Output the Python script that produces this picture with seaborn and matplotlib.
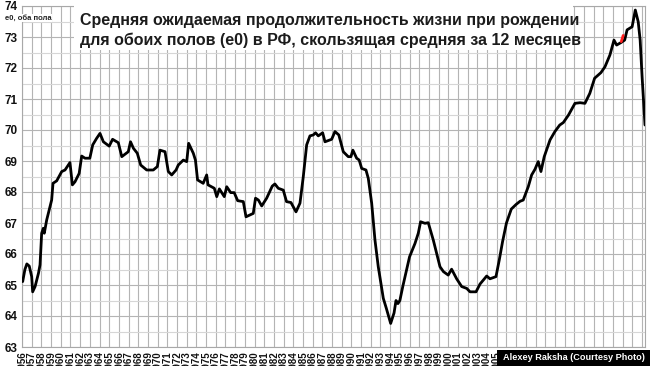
import numpy as np
import pandas as pd
import matplotlib
matplotlib.use("Agg")
import matplotlib.pyplot as plt
import matplotlib.patches as mpatches
from matplotlib.ticker import MultipleLocator
import seaborn as sns

# ---- data ----
years = [1956.07, 1956.3, 1956.5, 1956.75, 1957.0, 1957.1, 1957.35, 1957.7, 1957.86, 1958.03,
         1958.2, 1958.3, 1958.55, 1958.9, 1959.06, 1959.2, 1959.58, 1960.1, 1960.44, 1960.95,
         1961.2, 1961.47, 1961.9, 1962.16, 1962.5, 1963.0, 1963.3, 1963.7, 1964.05, 1964.4,
         1965.0, 1965.35, 1965.94, 1966.3, 1966.97, 1967.2, 1967.5, 1967.9, 1968.25, 1968.87,
         1969.55, 1969.97, 1970.24, 1970.76, 1971.1, 1971.45, 1971.9, 1972.13, 1972.65, 1973.0,
         1973.2, 1973.68, 1973.9, 1974.12, 1974.7, 1975.06, 1975.2, 1975.85, 1976.1, 1976.37,
         1976.88, 1977.13, 1977.54, 1977.9, 1978.26, 1978.84, 1979.12, 1979.87, 1980.1, 1980.4,
         1980.74, 1981.25, 1981.83, 1982.1, 1982.45, 1982.97, 1983.3, 1983.76, 1984.28, 1984.69,
         1985.03, 1985.38, 1985.72, 1986.06, 1986.3, 1986.58, 1987.03, 1987.27, 1987.96, 1988.3,
         1988.7, 1989.16, 1989.67, 1989.95, 1990.15, 1990.54, 1990.8, 1991.06, 1991.5, 1991.74,
         1992.09, 1992.43, 1992.77, 1993.29, 1993.6, 1994.05, 1994.4, 1994.6, 1994.8, 1995.0,
         1995.3, 1996.0, 1996.56, 1996.9, 1997.14, 1997.59, 1997.93, 1998.45, 1999.14, 1999.5,
         1999.99, 2000.34, 2000.86, 2001.38, 2001.9, 2002.24, 2002.86, 2003.27, 2003.96, 2004.3,
         2004.92, 2005.26, 2005.6, 2006.0, 2006.5, 2007.0, 2007.4, 2007.73, 2008.25, 2008.6,
         2008.94, 2009.28, 2009.56, 2009.9, 2010.5, 2011.0, 2011.5, 2011.87, 2012.4, 2013.07,
         2013.6, 2014.1, 2014.6, 2015.1, 2015.75, 2016.17, 2016.68, 2017.1, 2017.37, 2017.82,
         2018.2, 2018.45, 2018.97, 2019.3, 2019.6, 2019.8, 2020.0, 2020.3]
e0 = [65.11, 65.5, 65.68, 65.61, 65.27, 64.78, 64.95, 65.38, 65.65, 66.67,
      66.83, 66.67, 67.1, 67.53, 67.74, 68.28, 68.36, 68.66, 68.71, 68.95,
      68.23, 68.33, 68.6, 69.16, 69.09, 69.09, 69.52, 69.73, 69.89, 69.62,
      69.48, 69.7, 69.59, 69.14, 69.3, 69.62, 69.41, 69.25, 68.87, 68.71,
      68.71, 68.82, 69.35, 69.3, 68.66, 68.55, 68.71, 68.87, 69.03, 68.98,
      69.57, 69.25, 69.03, 68.39, 68.28, 68.55, 68.23, 68.12, 67.85, 68.1,
      67.85, 68.17, 67.98, 67.98, 67.72, 67.69, 67.2, 67.31, 67.8, 67.74,
      67.55, 67.8, 68.19, 68.26, 68.12, 68.06, 67.69, 67.66, 67.36, 67.64,
      68.49, 69.52, 69.81, 69.84, 69.91, 69.81, 69.91, 69.62, 69.7, 69.95,
      69.84, 69.3, 69.14, 69.14, 69.35, 69.09, 69.03, 68.76, 68.71, 68.44,
      67.64, 66.45, 65.59, 64.57, 64.25, 63.76, 64.1, 64.5, 64.4, 64.5,
      64.95, 65.91, 66.34, 66.67, 67.04, 66.99, 67.01, 66.45, 65.59, 65.43,
      65.32, 65.51, 65.2, 64.95, 64.89, 64.78, 64.78, 65.03, 65.29, 65.2,
      65.27, 65.81, 66.4, 67.0, 67.45, 67.6, 67.7, 67.74, 68.17, 68.55,
      68.73, 68.98, 68.66, 69.14, 69.68, 69.95, 70.16, 70.24, 70.48, 70.86,
      70.88, 70.86, 71.18, 71.67, 71.85, 72.04, 72.42, 72.9, 72.74, 72.82,
      72.9, 73.23, 73.33, 73.87, 73.49, 72.9, 71.72, 70.16]
red_years = [2017.85, 2018.05]
red_e0 = [72.85, 73.05]
tick_years = list(range(1956, 2021))
y_ticks = list(range(63, 75))

title_line1 = "Средняя ожидаемая продолжительность жизни при рождении"
title_line2 = "для обоих полов (е0) в РФ, скользящая средняя за 12 месяцев"
y_note = "е0, оба пола"
credit = "Alexey Raksha (Courtesy Photo)"

# ---- drawing ----
sns.set_style("white")
plt.rcParams["font.family"] = ["Liberation Sans", "DejaVu Sans"]

W, H = 650, 366
fig = plt.figure(figsize=(W / 100, H / 100), dpi=100)
ax = fig.add_axes([22 / W, 1 - 347 / H, (645 - 22) / W, (347 - 6) / H])

df = pd.DataFrame({"year": years, "e0": e0})
sns.lineplot(data=df, x="year", y="e0", ax=ax, color="black", lw=2.0, sort=False, zorder=5)
rdf = pd.DataFrame({"year": red_years, "e0": red_e0})
sns.lineplot(data=rdf, x="year", y="e0", ax=ax, color="#ff2020", lw=2.0, sort=False, zorder=6)

ax.set_xlim(1956, 2020.3)
ax.set_ylim(63, 74)
ax.set_xticks(tick_years)
ax.set_xticklabels([str(y) for y in tick_years], rotation=90, fontsize=7, fontweight="bold")
for yr, lab in zip(tick_years, ax.get_xticklabels()):
    if yr > 2005:  # hidden under the credit strip in the reference
        lab.set_visible(False)
ax.set_yticks(y_ticks)
ax.set_yticklabels([str(v) for v in y_ticks], fontsize=8.5, fontweight="bold")
ax.yaxis.set_minor_locator(MultipleLocator(0.5))
ax.tick_params(axis="both", which="both", length=0, colors="#111111")
ax.tick_params(axis="x", pad=3)
ax.tick_params(axis="y", pad=3)
ax.grid(True, which="major", color="#b4b4b4", lw=0.8)
ax.grid(True, which="minor", axis="y", color="#d6d6d6", lw=0.8)
ax.set_axisbelow(True)
ax.set_xlabel("")
ax.set_ylabel("")
for s in ax.spines.values():
    s.set_color("#a8a8a8")
    s.set_linewidth(0.8)

# white panel behind the title
fig.patches.append(mpatches.Rectangle((74 / W, 1 - 50 / H), (573 - 74) / W, 50 / H,
                                      transform=fig.transFigure, facecolor="white",
                                      edgecolor="none", zorder=1.5))
fig.text(80 / W, 1 - 25 / H, title_line1, ha="left", va="baseline", fontsize=11.5,
         fontweight="bold", color="#1c1c1c", zorder=3)
fig.text(80 / W, 1 - 45 / H, title_line2, ha="left", va="baseline", fontsize=11.5,
         fontweight="bold", color="#1c1c1c", zorder=3)
fig.text(5 / W, 1 - 18 / H, y_note, ha="left", va="center", fontsize=5.5, fontweight="bold",
         color="#222222", bbox=dict(facecolor="white", edgecolor="none", pad=0.5))

fig.patches.append(mpatches.Rectangle((497 / W, 0), (W - 497) / W, 16 / H,
                                      transform=fig.transFigure, facecolor="black",
                                      edgecolor="none", zorder=2))
fig.text(503 / W, 8 / H, credit, ha="left", va="center", fontsize=6.6, fontweight="bold",
         color="white", zorder=3)

fig.savefig("out.png", dpi=100)
